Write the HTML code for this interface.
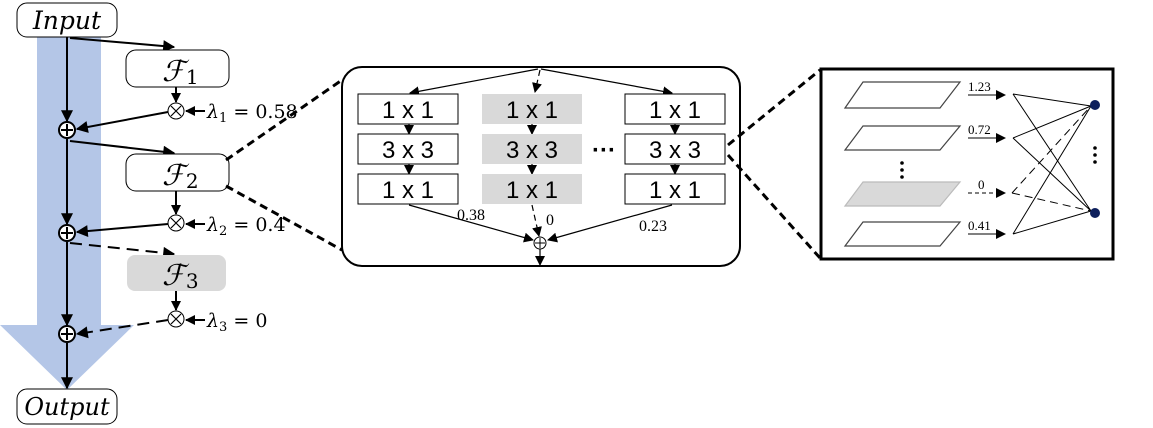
<!DOCTYPE html>
<html><head><meta charset="utf-8"><style>
html,body{margin:0;padding:0;background:#fff;}
svg{display:block;}
.it{font-family:"DejaVu Serif","Liberation Serif",serif;font-style:italic;}
.sf{font-family:"Liberation Sans",sans-serif;}
.se{font-family:"Liberation Serif",serif;}
</style></head><body>
<svg width="1153" height="428" viewBox="0 0 1153 428" xmlns="http://www.w3.org/2000/svg">
<defs>
<marker id="am" viewBox="0 0 10 10" refX="9" refY="5" markerWidth="10" markerHeight="10" orient="auto" markerUnits="userSpaceOnUse"><path d="M0,0L10,5L0,10z" fill="#000"/></marker>
<marker id="al" viewBox="0 0 10 10" refX="9" refY="5" markerWidth="14" markerHeight="12" orient="auto" markerUnits="userSpaceOnUse"><path d="M0,0L10,5L0,10z" fill="#000"/></marker>
</defs>
<polygon points="37,37 101,37 101,325 134,325 67,390 0,325 37,325" fill="#b4c6e7"/>
<rect x="17" y="3" width="100" height="34" rx="10" fill="#fff" stroke="#000" stroke-width="1"/>
<text x="67" y="29" class="it" font-size="25" text-anchor="middle">Input</text>
<rect x="17" y="389" width="100" height="35" rx="10" fill="#fff" stroke="#000" stroke-width="1"/>
<text x="67" y="415" class="it" font-size="24" text-anchor="middle">Output</text>
<g stroke="#000" stroke-width="2" fill="none">
<line x1="67" y1="37" x2="67" y2="121" marker-end="url(#al)"/>
<line x1="67" y1="139" x2="67" y2="224" marker-end="url(#al)"/>
<line x1="67" y1="242" x2="67" y2="325" marker-end="url(#al)"/>
<line x1="67" y1="343" x2="67" y2="388" marker-end="url(#al)"/>
<line x1="70" y1="38" x2="174" y2="47" marker-end="url(#al)"/>
<line x1="70" y1="141" x2="174" y2="153" marker-end="url(#al)"/>
<line x1="70" y1="243" x2="174" y2="254" stroke-dasharray="12,7" marker-end="url(#al)"/>
<line x1="168" y1="112" x2="77" y2="129" marker-end="url(#al)"/>
<line x1="168" y1="224" x2="77" y2="232" marker-end="url(#al)"/>
<line x1="168" y1="320" x2="77" y2="334" stroke-dasharray="12,7" marker-end="url(#al)"/>
<line x1="176" y1="87" x2="176" y2="102" marker-end="url(#am)"/>
<line x1="176" y1="191" x2="176" y2="214" marker-end="url(#am)"/>
<line x1="176" y1="291" x2="176" y2="310" marker-end="url(#am)"/>
<line x1="205" y1="111" x2="186" y2="111" marker-end="url(#am)"/>
<line x1="205" y1="224" x2="186" y2="224" marker-end="url(#am)"/>
<line x1="205" y1="320" x2="186" y2="320" marker-end="url(#am)"/>
</g>
<rect x="126" y="50" width="103" height="37" rx="10" fill="#fff" stroke="#000"/>
<rect x="126" y="154" width="103" height="37" rx="10" fill="#fff" stroke="#000"/>
<rect x="127" y="255" width="99" height="36" rx="8" fill="#d9d9d9"/>
<text x="162" y="81" class="it" font-size="29">ℱ<tspan font-style="normal" font-size="20" dx="1" dy="3">1</tspan></text>
<text x="162" y="185" class="it" font-size="29">ℱ<tspan font-style="normal" font-size="20" dx="1" dy="3">2</tspan></text>
<text x="162" y="285" class="it" font-size="29">ℱ<tspan font-style="normal" font-size="20" dx="1" dy="3">3</tspan></text>
<g fill="#fff" stroke="#000">
<circle cx="176" cy="111" r="8"/><circle cx="176" cy="223" r="8"/><circle cx="176" cy="319" r="8"/>
</g>
<g stroke="#000" stroke-width="1.2">
<path d="M171,106L181,116M181,106L171,116"/><path d="M171,218L181,228M181,218L171,228"/><path d="M171,314L181,324M181,314L171,324"/>
</g>
<g fill="#fff" stroke="#000" stroke-width="2">
<circle cx="67" cy="130" r="8"/><circle cx="67" cy="233" r="8"/><circle cx="67" cy="334" r="8"/>
</g>
<g stroke="#000" stroke-width="2">
<path d="M61,130H73M67,124V136"/><path d="M61,233H73M67,227V239"/><path d="M61,334H73M67,328V340"/>
</g>
<text x="207" y="118" class="it" font-size="19">λ<tspan font-style="normal" font-size="13" dy="4">1</tspan><tspan font-style="normal" dy="-4"> = 0.58</tspan></text>
<text x="207" y="231" class="it" font-size="19">λ<tspan font-style="normal" font-size="13" dy="4">2</tspan><tspan font-style="normal" dy="-4"> = 0.4</tspan></text>
<text x="207" y="327" class="it" font-size="19">λ<tspan font-style="normal" font-size="13" dy="4">3</tspan><tspan font-style="normal" dy="-4"> = 0</tspan></text>
<g stroke="#000" stroke-width="3" stroke-dasharray="8,5" fill="none">
<line x1="226" y1="160" x2="342" y2="80"/>
<line x1="226" y1="186" x2="342" y2="250"/>
</g>
<rect x="342" y="67" width="398" height="199" rx="20" fill="#fff" stroke="#000" stroke-width="2"/>
<g stroke="#000" stroke-width="3" stroke-dasharray="8,5" fill="none">
<line x1="728" y1="145" x2="820" y2="70"/>
<line x1="728" y1="155" x2="820" y2="258"/>
</g>
<g stroke="#000" stroke-width="1.2" fill="none">
<line x1="538" y1="69" x2="410" y2="93" marker-end="url(#am)"/>
<line x1="541" y1="69" x2="672" y2="93" marker-end="url(#am)"/>
<line x1="540" y1="70" x2="535" y2="92" stroke-dasharray="6,4" marker-end="url(#am)"/>
<line x1="409" y1="124" x2="409" y2="134" marker-end="url(#am)"/>
<line x1="409" y1="164" x2="409" y2="174" marker-end="url(#am)"/>
<line x1="532" y1="124" x2="532" y2="134" marker-end="url(#am)"/>
<line x1="532" y1="164" x2="532" y2="174" marker-end="url(#am)"/>
<line x1="675" y1="124" x2="675" y2="134" marker-end="url(#am)"/>
<line x1="675" y1="164" x2="675" y2="174" marker-end="url(#am)"/>
<line x1="409" y1="205" x2="533" y2="240" marker-end="url(#am)"/>
<line x1="672" y1="205" x2="548" y2="240" marker-end="url(#am)"/>
<line x1="532" y1="205" x2="539" y2="236" stroke-dasharray="6,4" marker-end="url(#am)"/>
<line x1="540" y1="249" x2="540" y2="265" marker-end="url(#am)"/>
</g>
<g fill="#fff" stroke="#000">
<rect x="358" y="94" width="100" height="30"/><rect x="358" y="134" width="100" height="30"/><rect x="358" y="174" width="100" height="30"/>
<rect x="625" y="94" width="100" height="30"/><rect x="625" y="134" width="100" height="30"/><rect x="625" y="174" width="100" height="30"/>
</g>
<g fill="#d9d9d9">
<rect x="482" y="94" width="100" height="30"/><rect x="482" y="134" width="100" height="30"/><rect x="482" y="174" width="100" height="30"/>
</g>
<g class="sf" font-size="24" text-anchor="middle">
<text x="408" y="118">1 x 1</text><text x="408" y="158">3 x 3</text><text x="408" y="198">1 x 1</text>
<text x="532" y="118">1 x 1</text><text x="532" y="158">3 x 3</text><text x="532" y="198">1 x 1</text>
<text x="675" y="118">1 x 1</text><text x="675" y="158">3 x 3</text><text x="675" y="198">1 x 1</text>
<text x="604" y="158" font-weight="bold">···</text>
</g>
<circle cx="540" cy="243" r="6" fill="#fff" stroke="#000"/>
<path d="M535,243H545M540,238V248" stroke="#000"/>
<g class="se" font-size="16">
<text x="457" y="220">0.38</text><text x="546" y="225">0</text><text x="639" y="231">0.23</text>
</g>
<rect x="821" y="69" width="292" height="190" fill="#fff" stroke="#000" stroke-width="3"/>
<g stroke="#444" stroke-width="1.2" fill="#fff">
<polygon points="845,108 863,82 960,82 940,108"/>
<polygon points="845,150 863,126 960,126 940,150"/>
<polygon points="845,206 863,182 960,182 940,206" fill="#d9d9d9" stroke="#bbb"/>
<polygon points="845,246 863,222 960,222 940,246"/>
</g>
<g fill="#000"><circle cx="902" cy="163" r="1.8"/><circle cx="902" cy="170" r="1.8"/><circle cx="902" cy="177" r="1.8"/>
<circle cx="1095" cy="148" r="1.8"/><circle cx="1095" cy="155" r="1.8"/><circle cx="1095" cy="162" r="1.8"/></g>
<g stroke="#000" stroke-width="1" fill="none">
<line x1="968" y1="95" x2="1005" y2="95" marker-end="url(#am)"/>
<line x1="968" y1="138" x2="1005" y2="138" marker-end="url(#am)"/>
<line x1="968" y1="193" x2="1005" y2="193" stroke-dasharray="4,3" marker-end="url(#am)"/>
<line x1="968" y1="234" x2="1005" y2="234" marker-end="url(#am)"/>
<path d="M1013,94L1091,106M1013,94L1091,211M1013,138L1091,106M1013,138L1091,211M1013,234L1091,106M1013,234L1091,211"/>
<path d="M1012,193L1091,106M1012,193L1091,211" stroke-dasharray="8,5"/>
</g>
<circle cx="1095" cy="105" r="5" fill="#0d1f5c"/>
<circle cx="1095" cy="213" r="5" fill="#0d1f5c"/>
<g class="se" font-size="13">
<text x="968" y="91">1.23</text><text x="968" y="134">0.72</text><text x="978" y="189">0</text><text x="968" y="230">0.41</text>
</g>
</svg>
</body></html>
